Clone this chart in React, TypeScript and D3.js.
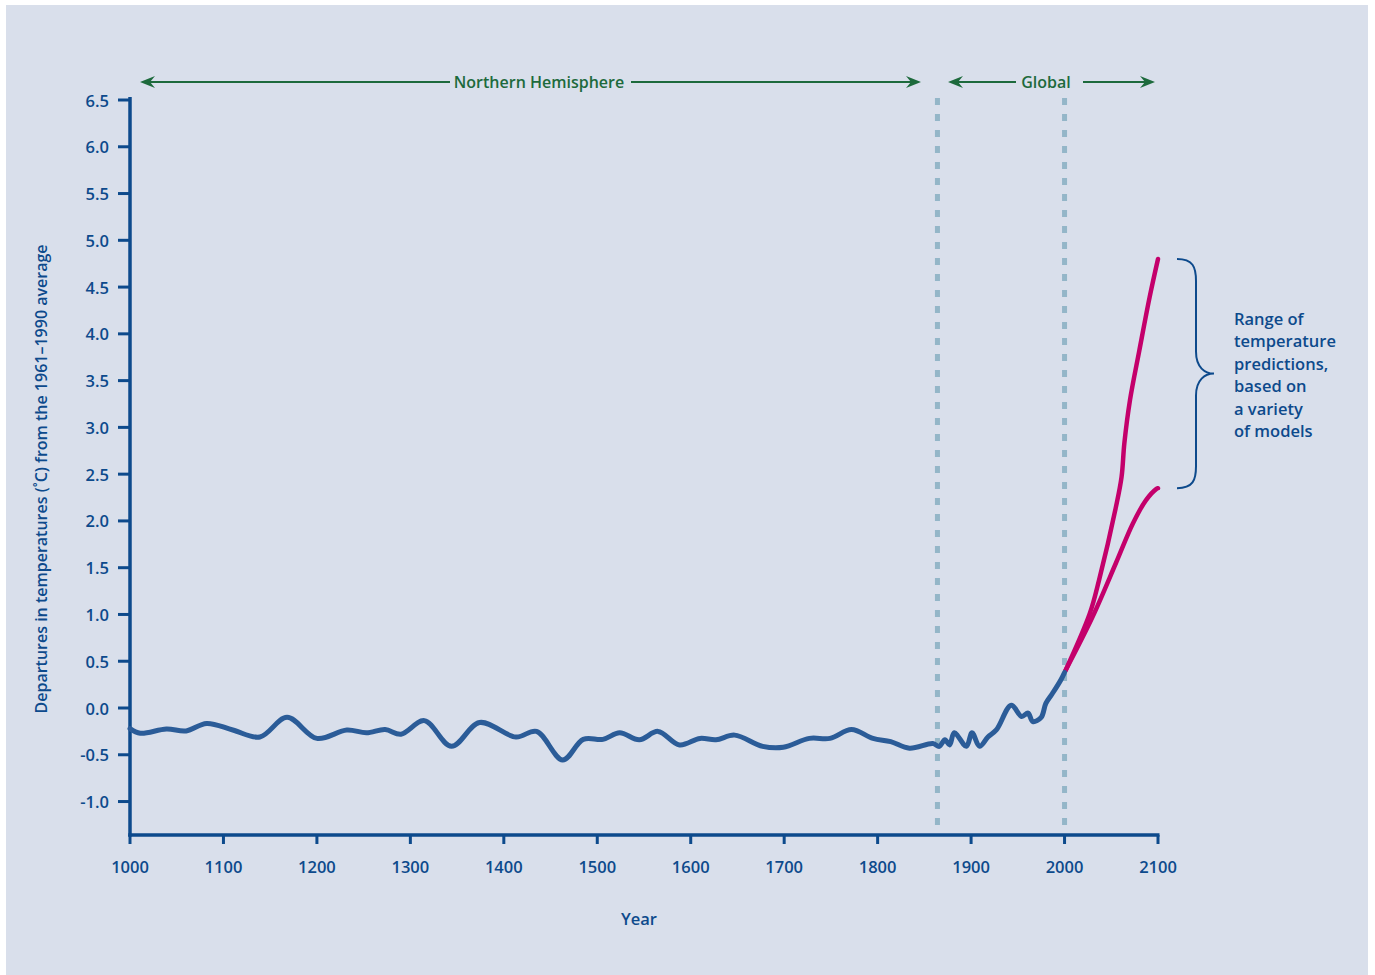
import React from "react";
import * as d3 from "d3";

/* DATA */
const pastYears = [
  1000, 1011, 1039, 1060, 1082, 1110, 1139, 1168, 1200, 1232, 1253, 1273, 1290,
  1315, 1344, 1374, 1413, 1435, 1463, 1485, 1506, 1524, 1545, 1565, 1588, 1610,
  1627, 1647, 1677, 1699, 1727, 1749, 1772, 1795, 1814, 1834, 1859, 1866, 1872,
  1877, 1882, 1895, 1901, 1909, 1918, 1927, 1943, 1954, 1961, 1966, 1975, 1980,
  1987, 1996, 2000,
];
const pastValues = [
  -0.22, -0.27, -0.225, -0.245, -0.165, -0.235, -0.31, -0.1, -0.325, -0.235,
  -0.265, -0.23, -0.28, -0.135, -0.41, -0.155, -0.31, -0.25, -0.555, -0.335,
  -0.335, -0.265, -0.34, -0.25, -0.395, -0.325, -0.34, -0.29, -0.41, -0.42,
  -0.325, -0.325, -0.23, -0.325, -0.36, -0.43, -0.38, -0.41, -0.34, -0.395,
  -0.265, -0.41, -0.265, -0.41, -0.31, -0.235, 0.03, -0.09, -0.055, -0.145,
  -0.1, 0.05, 0.155, 0.3, 0.38,
];

const highYears = [2001, 2027, 2037, 2055, 2061, 2064, 2070, 2080, 2091, 2100];
const highValues = [0.4, 1.01, 1.37, 2.15, 2.47, 2.83, 3.29, 3.82, 4.39, 4.8];

const lowYears = [2001, 2030, 2055, 2073, 2087, 2098, 2100];
const lowValues = [0.4, 0.975, 1.55, 1.97, 2.22, 2.34, 2.35];

const yTicks = [-1.0, -0.5, 0, 0.5, 1.0, 1.5, 2.0, 2.5, 3.0, 3.5, 4.0, 4.5, 5.0, 5.5, 6.0, 6.5];
const xTicks = [1000, 1100, 1200, 1300, 1400, 1500, 1600, 1700, 1800, 1900, 2000, 2100];
const splitYears = [1864, 2000];
const noteLines = [
  "Range of",
  "temperature",
  "predictions,",
  "based on",
  "a variety",
  "of models",
];

const AXIS = "#0d4a8c";
const GREEN = "#1d6a3c";
const FONT = "'Open Sans', sans-serif";

function Arrow({ x1, x2, y }: { x1: number; x2: number; y: number }) {
  // arrowhead pointing in direction x1 -> x2, tip at x2
  const dir = x2 > x1 ? 1 : -1;
  const L = 15;
  const W = 6;
  const head = `M${x2},${y} L${x2 - dir * L},${y - W} L${x2 - dir * 10},${y} L${x2 - dir * L},${y + W} Z`;
  return (
    <g>
      <line x1={x1} x2={x2 - dir * 8} y1={y} y2={y} stroke={GREEN} strokeWidth={2} />
      <path d={head} fill={GREEN} />
    </g>
  );
}

export default function App() {
  const x = d3.scaleLinear().domain([1000, 2100]).range([130, 1158]);
  const y = d3.scaleLinear().domain([0, 6.5]).range([708, 100]);

  const line = d3
    .line<[number, number]>()
    .x((d) => x(d[0]))
    .y((d) => y(d[1]))
    .curve(d3.curveCatmullRom);

  const past = pastYears.map((yr, i) => [yr, pastValues[i]] as [number, number]);
  const high = highYears.map((yr, i) => [yr, highValues[i]] as [number, number]);
  const low = lowYears.map((yr, i) => [yr, lowValues[i]] as [number, number]);

  const axisBottom = 835;

  // curly brace spanning the projection range at 2100
  const bx = 1177;
  const bTop = y(4.8);
  const bBot = y(2.35);
  const bMid = (bTop + bBot) / 2;
  const brace = `M${bx},${bTop} C${bx + 16},${bTop} ${bx + 19},${bTop + 8} ${bx + 19},${bTop + 22}
    L${bx + 19},${bMid - 22} C${bx + 19},${bMid - 6} ${bx + 28},${bMid} ${bx + 37},${bMid}
    C${bx + 28},${bMid} ${bx + 19},${bMid + 6} ${bx + 19},${bMid + 22}
    L${bx + 19},${bBot - 22} C${bx + 19},${bBot - 8} ${bx + 16},${bBot} ${bx},${bBot}`;

  return (
    <svg
      width={1375}
      height={975}
      style={{ position: "absolute", left: 0, top: 0 }}
      fontFamily={FONT}
    >
      <rect width={1375} height={975} fill="#ffffff" />
      <rect x={6} y={5} width={1362} height={970} fill="#d9dfeb" />

      {/* header arrows */}
      <Arrow x1={450} x2={140} y={82} />
      <Arrow x1={631} x2={921} y={82} />
      <text x={539} y={82} fill={GREEN} fontSize={16} fontWeight={600} textAnchor="middle" dominantBaseline="central">
        Northern Hemisphere
      </text>
      <Arrow x1={1016} x2={948} y={82} />
      <Arrow x1={1083} x2={1155} y={82} />
      <text x={1046} y={82} fill={GREEN} fontSize={16} fontWeight={600} textAnchor="middle" dominantBaseline="central">
        Global
      </text>

      {/* period separators */}
      {splitYears.map((yr) => (
        <line
          key={yr}
          x1={x(yr)}
          x2={x(yr)}
          y1={98}
          y2={828}
          stroke="#94b6c8"
          strokeWidth={5}
          strokeDasharray="7 9"
        />
      ))}

      {/* y axis */}
      <line x1={130} x2={130} y1={97} y2={axisBottom + 1.5} stroke={AXIS} strokeWidth={3.5} />
      {yTicks.map((t) => (
        <g key={t}>
          <line x1={118} x2={130} y1={y(t)} y2={y(t)} stroke={AXIS} strokeWidth={3} />
          <text
            x={109}
            y={y(t)}
            fill={AXIS}
            fontSize={16.5}
            fontWeight={600}
            textAnchor="end"
            dominantBaseline="central"
          >
            {t.toFixed(1)}
          </text>
        </g>
      ))}

      {/* x axis */}
      <line x1={128.25} x2={x(2100) + 1.5} y1={axisBottom} y2={axisBottom} stroke={AXIS} strokeWidth={3.5} />
      {xTicks.map((t) => (
        <g key={t}>
          <line x1={x(t)} x2={x(t)} y1={axisBottom} y2={axisBottom + 9} stroke={AXIS} strokeWidth={3} />
          <text
            x={x(t)}
            y={866}
            fill={AXIS}
            fontSize={16.5}
            fontWeight={600}
            textAnchor="middle"
            dominantBaseline="central"
          >
            {t}
          </text>
        </g>
      ))}

      <text x={639} y={918} fill={AXIS} fontSize={16.5} fontWeight={600} textAnchor="middle" dominantBaseline="central">
        Year
      </text>
      <text
        transform="translate(41,479) rotate(-90)"
        fill={AXIS}
        fontSize={16}
        fontWeight={600}
        textAnchor="middle"
        dominantBaseline="central"
      >
        Departures in temperatures (˚C) from the 1961–1990 average
      </text>

      {/* data */}
      <path d={line(low) || ""} fill="none" stroke="#c4006b" strokeWidth={4.5} strokeLinecap="round" />
      <path d={line(high) || ""} fill="none" stroke="#c4006b" strokeWidth={4.5} strokeLinecap="round" />
      <path d={line(past) || ""} fill="none" stroke="#2b5c98" strokeWidth={5} strokeLinecap="round" strokeLinejoin="round" />

      {/* annotation */}
      <path d={brace} fill="none" stroke={AXIS} strokeWidth={2} />
      {noteLines.map((s, i) => (
        <text key={s} x={1234} y={325 + i * 22.4} fill={AXIS} fontSize={16.5} fontWeight={600}>
          {s}
        </text>
      ))}
    </svg>
  );
}
